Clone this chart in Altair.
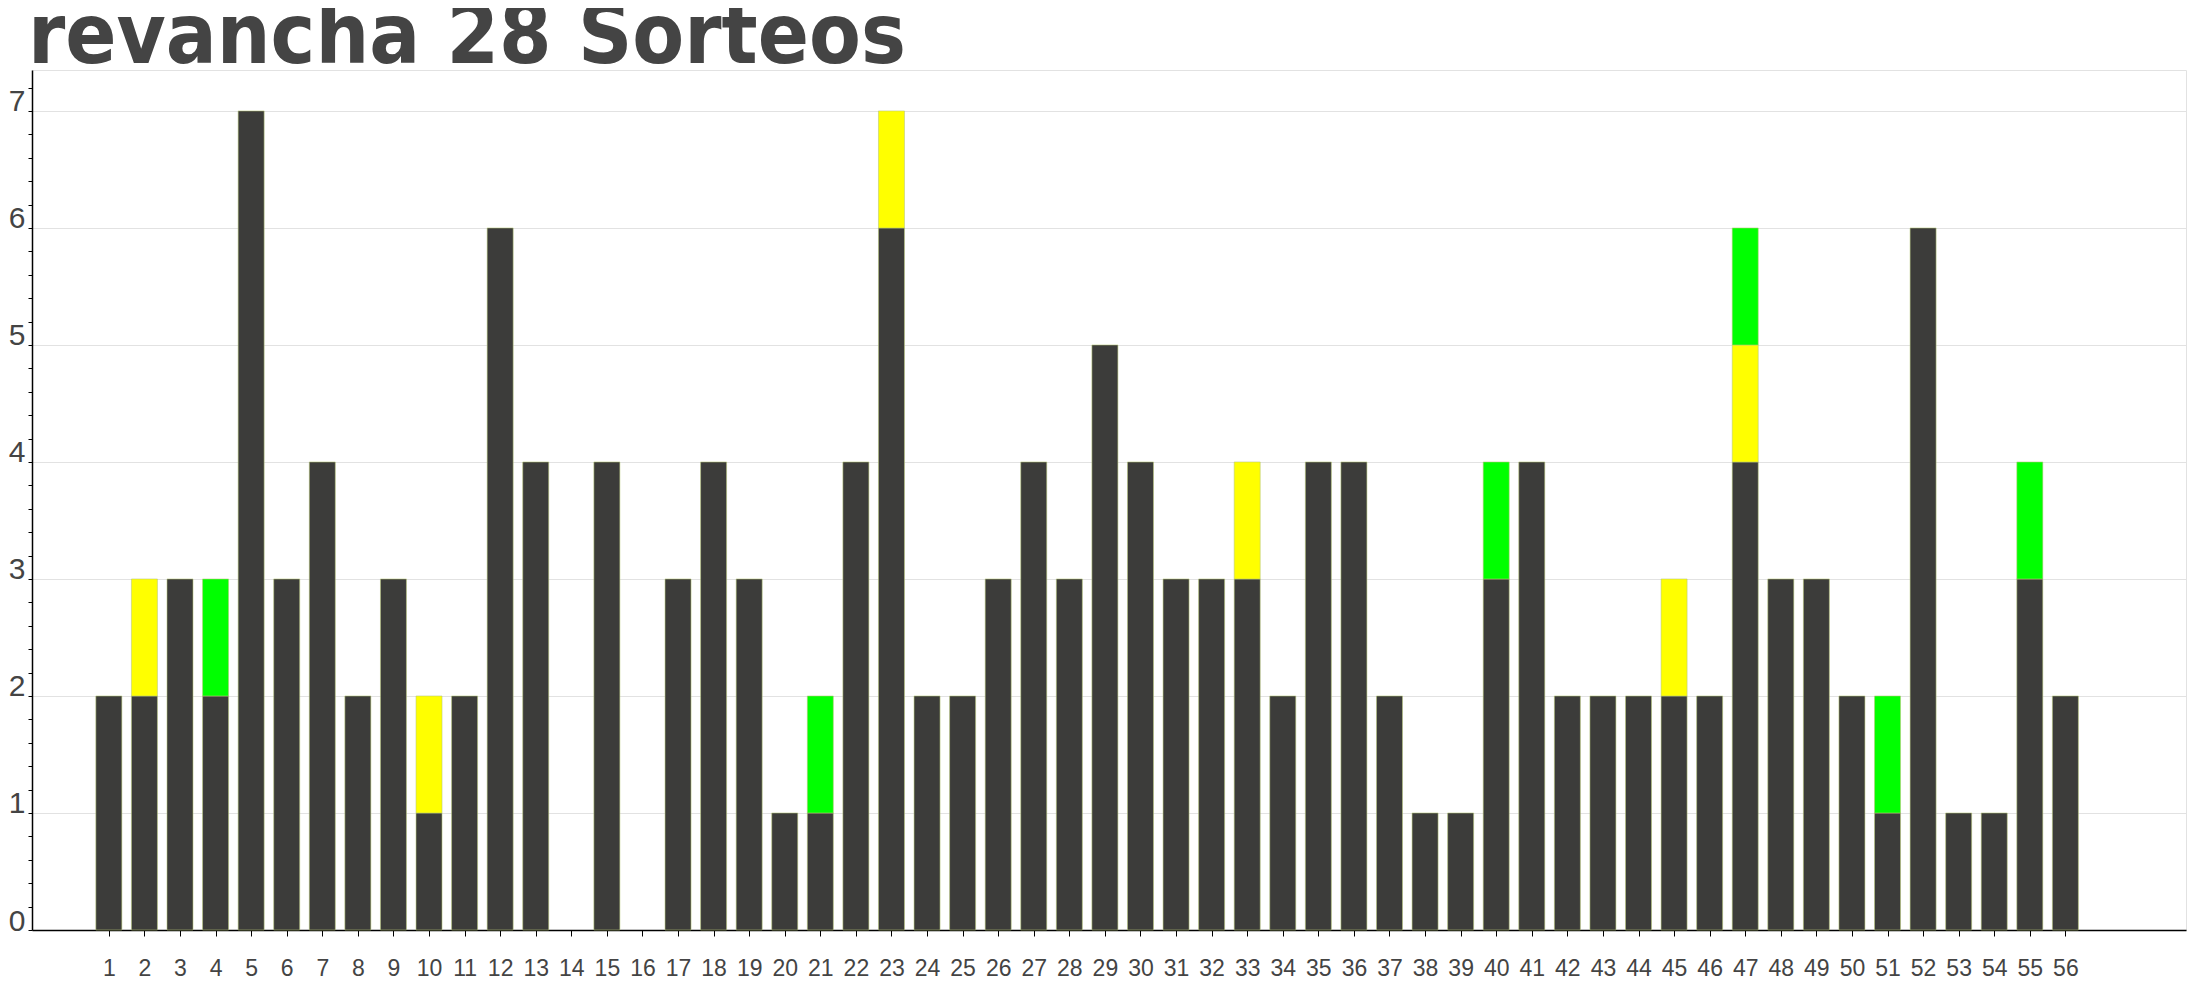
import altair as alt
import pandas as pd

# --- data ---
numbers = list(range(1, 57))
base = [2, 2, 3, 2, 7, 3, 4, 2, 3, 1,
        2, 6, 4, 0, 4, 0, 3, 4, 3, 1,
        1, 4, 6, 2, 2, 3, 4, 3, 5, 4,
        3, 3, 3, 2, 4, 4, 2, 1, 1, 3,
        4, 2, 2, 2, 2, 2, 4, 3, 3, 2,
        1, 6, 1, 1, 3, 2]
yellow = [0, 1, 0, 0, 0, 0, 0, 0, 0, 1,
          0, 0, 0, 0, 0, 0, 0, 0, 0, 0,
          0, 0, 1, 0, 0, 0, 0, 0, 0, 0,
          0, 0, 1, 0, 0, 0, 0, 0, 0, 0,
          0, 0, 0, 0, 1, 0, 1, 0, 0, 0,
          0, 0, 0, 0, 0, 0]
green = [0, 0, 0, 1, 0, 0, 0, 0, 0, 0,
         0, 0, 0, 0, 0, 0, 0, 0, 0, 0,
         1, 0, 0, 0, 0, 0, 0, 0, 0, 0,
         0, 0, 0, 0, 0, 0, 0, 0, 0, 1,
         0, 0, 0, 0, 0, 0, 1, 0, 0, 0,
         1, 0, 0, 0, 1, 0]
segments = ["base", "yellow", "green"]
seg_colors = ["#3c3c3a", "#ffff00", "#00ff00"]
title_text = "revancha 28 Sorteos"
y_ticks = [round(i * 0.2, 1) for i in range(37)]

rows = []
for i, n in enumerate(numbers):
    for k, (seg, vals) in enumerate(zip(segments, [base, yellow, green])):
        if vals[i] > 0:
            rows.append({"num": n, "seg": seg, "order": k, "val": vals[i]})
df = pd.DataFrame(rows)

chart = alt.Chart(df).mark_bar(
    width=26, stroke="#b8c878", strokeWidth=0.8, strokeOpacity=0.7
).encode(
    x=alt.X("num:Q",
            scale=alt.Scale(domain=[-1.02, 59.25], nice=False, zero=False),
            axis=alt.Axis(values=numbers, title=None, grid=False,
                          domainColor="#000000", domainWidth=1.5,
                          tickColor="#000000", tickSize=6,
                          labelFontSize=23, labelColor="#444444",
                          labelFont="Liberation Sans", labelPadding=21,
                          labelFlush=False, labelOverlap=False)),
    y=alt.Y("val:Q", stack="zero",
            scale=alt.Scale(domain=[0, 7.35], nice=False),
            axis=alt.Axis(values=y_ticks, title=None,
                          labelExpr="datum.value % 1 === 0 ? format(datum.value, 'd') : ''",
                          gridOpacity=alt.condition("datum.value % 1 === 0", alt.value(1), alt.value(0)),
                          gridColor="#e2e2e2", gridWidth=1,
                          domainColor="#000000", domainWidth=1.5,
                          tickColor="#000000", tickSize=4,
                          labelFontSize=30, labelColor="#444444",
                          labelFont="Liberation Sans", labelPadding=3,
                          labelBaseline="alphabetic", labelFlush=False,
                          labelOverlap=False)),
    color=alt.Color("seg:N", scale=alt.Scale(domain=segments, range=seg_colors), legend=None),
    order=alt.Order("order:Q"),
).properties(
    width=2154,
    height=860,
    title=alt.TitleParams(title_text, anchor="start", frame="group",
                          font="Liberation Sans Narrow, DejaVu Sans Condensed, sans-serif",
                          fontWeight="bold",
                          fontSize=84, color="#444444", offset=4, dx=-4, dy=21),
    autosize=alt.AutoSizeParams(type="none"),
    padding={"left": 24, "top": 62, "right": 6, "bottom": 62},
).configure_view(
    stroke="#e2e2e2", strokeWidth=1
)

chart.save("out.html", embed_options={"renderer": "svg", "actions": False})
